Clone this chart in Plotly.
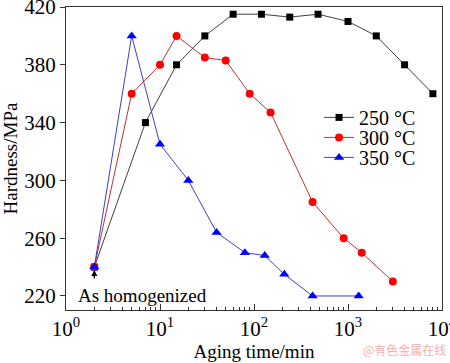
import plotly.graph_objects as go

t250 = [2, 7, 15, 30, 60, 120, 240, 480, 1000, 2000, 4000, 8000]
h250 = [240, 340, 380, 400, 415, 415, 413, 415, 410, 400, 380, 360]
t300 = [2, 5, 10, 15, 30, 50, 90, 150, 420, 900, 1400, 3000]
h300 = [240, 360, 380, 400, 385, 383, 360, 347, 285, 260, 250, 230]
t350 = [2, 5, 10, 20, 40, 80, 130, 210, 420, 1300]
h350 = [240, 400, 325, 300, 264, 250, 248, 235, 220, 220]

series = [
    ("250 °C", t250, h250, "black", "#404040", "square", 7, "legend", 0.70),
    ("300 °C", t300, h300, "#ff0000", "#c03030", "circle", 8, "legend2", 0.634),
    ("350 °C", t350, h350, "#0000ff", "#4040c0", "triangle-up", 9, "legend3", 0.568),
]

FONT = "Liberation Serif, Times New Roman, serif"
fig = go.Figure()
legends = {}
for name, x, y, mc, lc, sym, sz, lg, ly in series:
    fig.add_trace(go.Scatter(x=x, y=y, name=name, mode="lines+markers",
                             legend=lg,
                             line=dict(color=lc, width=1),
                             marker=dict(symbol=sym, size=sz, color=mc)))
    legends[lg] = dict(x=0.673, y=ly, xanchor="left", yanchor="top",
                       bgcolor="rgba(0,0,0,0)", borderwidth=0,
                       font=dict(family=FONT, size=20, color="black"))

fig.add_annotation(x=0.301, y=238, xref="x", yref="y", ax=0.301, ay=231,
                   axref="x", ayref="y", showarrow=True, arrowhead=2,
                   arrowsize=1, arrowwidth=1.2, arrowcolor="black", text="")
fig.add_annotation(x=0.11, y=220, xref="x", yref="y", text="As homogenized",
                   showarrow=False, xanchor="left", yanchor="middle",
                   font=dict(family=FONT, size=19, color="black"))
fig.add_annotation(x=1.0, y=0, xref="paper", yref="paper", yshift=-50, xshift=6,
                   text="@有色金属在线", showarrow=False, xanchor="right",
                   yanchor="bottom",
                   font=dict(family="Noto Sans CJK SC", size=12, color="#f4b0b0"))

fig.update_layout(
    width=450, height=363,
    margin=dict(l=66, r=8, t=7, b=53, autoexpand=False),
    plot_bgcolor="white", paper_bgcolor="white",
    font=dict(family=FONT, size=21, color="black"),
    showlegend=True,
    xaxis=dict(type="log", range=[0, 4], showline=True, linecolor="#333",
               linewidth=1.2, mirror=True, showgrid=False, zeroline=False,
               ticks="inside", ticklen=6, tickcolor="#333",
               ticklabeloverflow="allow",
               tickvals=[1, 10, 100, 1000, 10000],
               ticktext=["10<sup>0</sup>", "10<sup>1</sup>", "10<sup>2</sup>",
                         "10<sup>3</sup>", "10<sup>4</sup>"],
               minor=dict(ticks="inside", ticklen=3, tickcolor="#333",
                          tickvals=[m * 10**d for d in range(4) for m in range(2, 10)]),
               title=dict(text="Aging time/min", standoff=2,
                          font=dict(family=FONT, size=19))),
    yaxis=dict(range=[210.3, 420], showline=True, linecolor="#333",
               linewidth=1.2, mirror=True, showgrid=False, zeroline=False,
               ticks="outside", ticklen=5, tickcolor="#333",
               ticklabeloverflow="allow",
               tickvals=[220, 260, 300, 340, 380, 420],
               title=dict(text="Hardness/MPa", standoff=4,
                          font=dict(family=FONT, size=19))),
)
fig.update_layout(**legends)

fig.write_html("out.html", config={"displayModeBar": False},
               post_script="document.body.style.margin='0';document.body.style.padding='0';")
